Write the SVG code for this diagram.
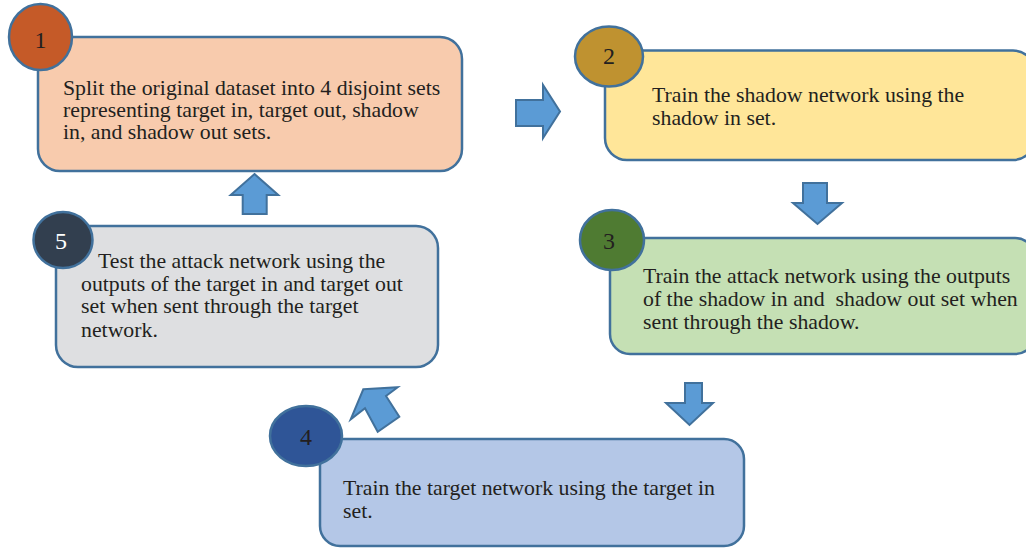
<svg xmlns="http://www.w3.org/2000/svg" width="1026" height="548" viewBox="0 0 1026 548">
<style>
.box{stroke:#41719C;stroke-width:2.5}
.num{stroke:#41719C;stroke-width:2.5}
.t{font-family:"Liberation Serif","Times New Roman",serif;font-size:21.8px;fill:#231F20}
.n{font-family:"Liberation Serif","Times New Roman",serif;font-size:24px;fill:#231F20;text-anchor:middle}
.arr{fill:#5B9BD5;stroke:#41719C;stroke-width:2;stroke-linejoin:miter}
</style>
<rect width="1026" height="548" fill="#FFFFFF"/>
<g id="connectors">
<polygon class="arr" points="516,100 543,100 543,85 560,111.5 543,138 543,126 516,126"/>
<polygon class="arr" points="803,183 827,183 827,203 842,203 817.5,224 793,203 803,203"/>
<polygon class="arr" points="685,383 702,383 702,403 713,403 689.5,425 666,403 685,403"/>
<polygon class="arr" points="363.3,389.3 397.7,387.3 386,396 399.3,416.7 377.7,431.7 365,408.3 350.7,419.3"/>
<polygon class="arr" points="254.5,174 278.3,195 266.7,195 266.7,214 242.7,214 242.7,195 230.7,195"/>
</g>
<g id="node1">
<rect class="box" x="38" y="37" width="424" height="134" rx="22" fill="#F8CBAD"/>
<ellipse class="num" cx="40.5" cy="37" rx="31.5" ry="33" fill="#C55A28"/>
<text class="n" x="40.5" y="48">1</text>
<text class="t" x="63" y="95">Split the original dataset into 4 disjoint sets</text>
<text class="t" x="63" y="117">representing target in, target out, shadow</text>
<text class="t" x="63" y="139">in, and shadow out sets.</text>
</g>
<g id="node2">
<rect class="box" x="605" y="50.5" width="430" height="109.5" rx="22" fill="#FFE699"/>
<ellipse class="num" cx="609" cy="56.5" rx="34" ry="30" fill="#BF9230"/>
<text class="n" x="609" y="64">2</text>
<text class="t" x="652" y="102">Train the shadow network using the</text>
<text class="t" x="652" y="125">shadow in set.</text>
</g>
<g id="node3">
<rect class="box" x="610" y="238" width="425" height="116" rx="20" fill="#C5E0B4"/>
<ellipse class="num" cx="612" cy="240" rx="32" ry="30" fill="#4F7B32"/>
<text class="n" x="609" y="249">3</text>
<text class="t" x="643" y="283">Train the attack network using the outputs</text>
<text class="t" x="643" y="306" xml:space="preserve">of the shadow in and  shadow out set when</text>
<text class="t" x="643" y="329">sent through the shadow.</text>
</g>
<g id="node4">
<rect class="box" x="320" y="439" width="424" height="107" rx="20" fill="#B4C7E7"/>
<ellipse class="num" cx="306" cy="436" rx="36" ry="30" fill="#2F5597"/>
<text class="n" x="306" y="445">4</text>
<text class="t" x="343" y="495">Train the target network using the target in</text>
<text class="t" x="343" y="518">set.</text>
</g>
<g id="node5">
<rect class="box" x="56" y="226" width="382" height="141" rx="22" fill="#DEDFE1"/>
<ellipse class="num" cx="63" cy="240" rx="29.5" ry="28" fill="#323F4F"/>
<text class="n" x="61" y="249" style="fill:#FFFFFF">5</text>
<text class="t" x="98" y="268">Test the attack network using the</text>
<text class="t" x="81" y="291">outputs of the target in and target out</text>
<text class="t" x="81" y="313">set when sent through the target</text>
<text class="t" x="81" y="337">network.</text>
</g>
</svg>
